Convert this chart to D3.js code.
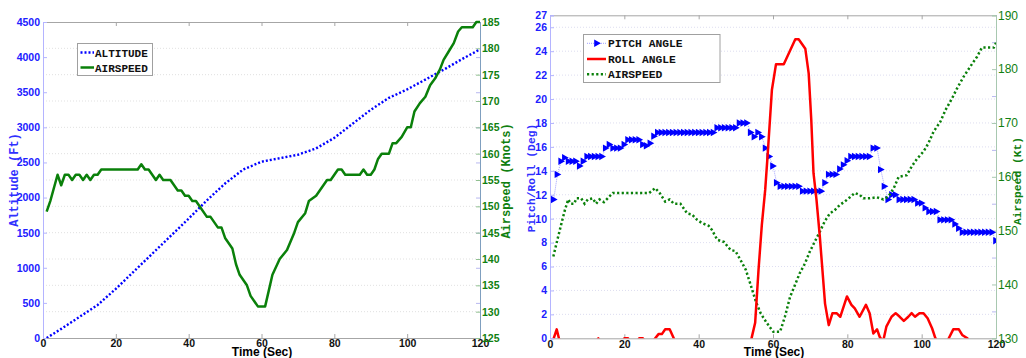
<!DOCTYPE html>
<html><head><meta charset="utf-8">
<script src="https://cdn.jsdelivr.net/npm/d3@7"></script>
<style>body{margin:0;background:#fff}svg{display:block}</style>
</head><body>
<svg id="c" width="1026" height="358"></svg>
<script>
// ---------- data: left chart ----------
const altT = [1,5,10,15,20,25,30,35,40,45,50,55,60,65,70,75,80,85,90,95,100,105,110,115,120];
const altV = [0,130,300,470,700,950,1200,1450,1700,1960,2200,2400,2510,2560,2610,2700,2850,3050,3250,3420,3540,3680,3820,3970,4110];

const spdLT = [1,2,4,5,6,7,8,9,10,11,12,13,14,15,16,26,27,28,29,31,32,33,35,37,38,39,40,41,42,43,45,46,48,49,50,52,53,54,56,57,59,61,62,63,65,67,69,70,72,73,75,76,78,79,81,82,83,86,87,88,89,90,91,92,93,95,96,97,98.5,100,101,102,103.5,105,106.3,107.7,109,110,111.4,112.8,114,115,118,119,120];
const spdLV = [149,151,156,154,156,156,155,156,156,155,156,155,156,156,157,157,158,157,157,155,156,155,155,153,153,152,152,151,151,150,148,148,146,146,144,142,139,137,135,133,131,131,134,137,140,141.7,145,147,148.7,151,152,153,155,155,157,157,156,156,156,157,156,156,157,159,160,160,162,162,163.2,165,165,168,169.6,170.8,173,174.3,176,177.8,179.4,181,183.2,184,184,185,185];

// ---------- data: right chart ----------
const pitchT = d3.range(1,121);
const pitchV = [11.6,13.7,14.8,15.1,14.8,14.8,14.8,14.4,14.8,15.2,
  15.2,15.2,15.2,15.2,15.9,16.2,15.9,15.9,15.9,16.2,
  16.6,16.6,16.6,16.6,16.2,16.1,16.3,16.9,17.2,17.2,
  17.2,17.2,17.2,17.2,17.2,17.2,17.2,17.2,17.2,17.2,
  17.2,17.2,17.2,17.2,17.6,17.6,17.6,17.6,17.6,17.6,
  18.0,18.0,18.0,17.2,16.85,17.2,16.85,15.9,15.2,14.4,
  13.0,12.7,12.7,12.7,12.7,12.7,12.7,12.3,12.3,12.3,
  12.3,12.3,12.3,13.0,13.7,13.7,13.7,14.15,14.5,14.85,
  15.2,15.2,15.2,15.2,15.2,15.2,15.9,15.9,14.1,12.7,
  11.6,12.0,12.0,11.6,11.6,11.6,11.6,11.6,11.3,11.3,
  10.9,10.6,10.6,10.6,9.9,9.9,9.9,9.9,9.55,9.2,
  8.86,8.86,8.86,8.86,8.86,8.86,8.86,8.86,8.86,8.16];

const rollT = [1,1.8,2.4,3.5,12,13,14,19.5,20,21,21.5,23.5,24,25,26,27.5,28.3,29.2,30.1,31,32.2,33.3,34,53.5,54.3,55.2,56.1,57,57.9,58.6,59.7,60.8,62.9,66,66.9,68.7,69.6,70.3,70.9,71.7,72.6,74,75,76,77.1,78.1,79.9,81.1,82,83.3,85,86,87,88,88.7,89.6,90.5,91.9,93,94.1,95.2,96.4,97.3,98.2,99.4,100.5,101.6,102.8,103.7,105,106.5,107.3,108.5,110,110.9,112.3,113.5,120];
const rollV = [0,0.75,0,-1,-0.5,0,-0.5,-0.3,0,0,-0.3,-0.3,0,0,-0.5,-0.3,0,0.35,0.35,0.75,0.75,0,-1,-1,0.1,1.3,5.7,9.5,12.4,15.5,20.75,22.9,22.9,25,25,24.2,22.15,18.25,13.8,11.6,8.5,2.9,1.1,2.1,2.1,1.8,3.5,2.8,2.5,1.8,2.8,2.1,0.4,0.75,0.13,-0.3,0.97,1.8,2.1,1.8,1.45,1.8,2.1,1.8,2.1,2.1,1.67,0.84,0,-1,-0.5,0,0.75,0.75,0.28,0,-1,-1];

const spdRT = [0.9,2.2,3.1,4.0,4.9,5.6,6.5,7.1,8.4,9.3,10.2,11.5,12.4,13.3,14.5,15.5,16.9,26.7,28.3,29.5,31,32.2,33.3,35.1,36.9,38.2,39.6,40.9,42.7,43.6,45,46.8,48.6,49.9,51.3,52.7,54,55.4,56.7,58.1,59,60.1,61.9,63.2,64.6,65.9,67.2,68.6,69.9,71.2,72.6,73.9,75.3,76.6,78,79.3,80.7,82,83.4,84.3,86.1,87.9,89.7,91,92.5,93.8,96,97.3,98.7,100.5,101.8,103.2,105,106.4,108.2,109.5,111.3,113.1,114.9,116.2,119.4,120];
const spdRV = [145.2,148.9,151.4,153.8,155.8,155,155,156,156,155,155.8,156,155,155.8,155.3,156,157,157,157.9,157,155.4,155.8,155,155,153.2,153,152,151.4,150.9,150.1,148.3,147.9,146.4,146.2,144.5,142.7,139.9,136.8,134.6,133.1,132.2,131.2,131.2,134,137.7,139.9,142.1,143.9,146.1,147.9,149.8,151.7,153.2,153.8,154.8,155.4,156.2,157,156.6,156,156,156.2,155.8,156.3,157.9,160,160.3,161.9,163.3,164.7,166.2,168.4,170.2,172.4,174.6,176.4,178.6,180.5,182.3,184,184,184.9];

// ---------- tick labels ----------
const xTicks = [0,20,40,60,80,100,120];
const altTicks = [0,500,1000,1500,2000,2500,3000,3500,4000,4500];
const spdLTicks = [125,130,135,140,145,150,155,160,165,170,175,180,185];
const degTicks = [0,2,4,6,8,10,12,14,16,18,20,22,24,26,27];
const spdRTicks = [130,140,150,160,170,180,190];

const svg = d3.select("#c");
svg.append("rect").attr("width",1026).attr("height",358).attr("fill","#fff");
const defs = svg.append("defs");
const tickFont = "'Liberation Sans', Arial, sans-serif";
const monoFont = "'Liberation Mono', 'Courier New', monospace";
const plain = d => String(d);

function clip(id,x0,y0,x1,y1){
  defs.append("clipPath").attr("id",id).append("rect")
    .attr("x",x0).attr("y",y0-3).attr("width",x1-x0).attr("height",y1-y0+3);
}

function styleAxis(g,color,lineColor,fs){
  g.select(".domain").attr("stroke",lineColor).attr("stroke-width",1);
  g.selectAll(".tick line").attr("stroke",lineColor);
  g.selectAll(".tick text").attr("fill",color).attr("font-family",tickFont)
   .attr("font-size",fs).attr("font-weight","bold");
}

// ================= LEFT CHART =================
{
  const x = d3.scaleLinear([0,120],[43,480]);
  const yA = d3.scaleLinear([0,4500],[338,22]);
  const yS = d3.scaleLinear([125,185],[338,22]);
  clip("clipL",43,22,480,338);

  svg.append("g").selectAll("line").data(spdLTicks.filter(v=>v>125&&v<185)).join("line")
    .attr("x1",x(0)).attr("x2",x(120)).attr("y1",d=>yS(d)).attr("y2",d=>yS(d))
    .attr("stroke","#d9d9d9").attr("stroke-width",0.8).attr("stroke-dasharray","1,2");

  const gTop = svg.append("g").attr("transform","translate(0,22)")
    .call(d3.axisTop(x).tickValues(xTicks).tickSize(-4).tickFormat(""));
  styleAxis(gTop,"#000","#a6a6a6",10);
  const gBot = svg.append("g").attr("transform","translate(0,338)")
    .call(d3.axisBottom(x).tickValues(xTicks).tickSize(-4).tickPadding(2).tickFormat(plain));
  styleAxis(gBot,"#111","#a6a6a6",10.5);

  svg.append("g").attr("transform","translate(480,0)")
    .call(d3.axisLeft(yA).tickValues(altTicks).tickSize(4).tickFormat(""))
    .call(g=>{g.select(".domain").remove();g.selectAll(".tick line").attr("stroke","#b8b8f0");});

  const gL = svg.append("g").attr("transform","translate(43,0)")
    .call(d3.axisLeft(yA).tickValues(altTicks).tickSize(-4).tickPadding(3).tickFormat(plain));
  styleAxis(gL,"#2020ff","#b4b4ff",10.5);
  const gR = svg.append("g").attr("transform","translate(480,0)")
    .call(d3.axisRight(yS).tickValues(spdLTicks).tickSize(-4).tickPadding(2).tickFormat(plain));
  styleAxis(gR,"#108010","#7f9fbf",10.5);
  gR.selectAll(".tick line").attr("stroke","#90c090");

  const plot = svg.append("g").attr("clip-path","url(#clipL)");
  plot.append("path").datum(altT.map((t,i)=>[t,altV[i]]))
    .attr("d",d3.line().x(d=>x(d[0])).y(d=>yA(d[1])))
    .attr("fill","none").attr("stroke","#0000ff").attr("stroke-width",2.4).attr("stroke-dasharray","2,2");
  plot.append("path").datum(spdLT.map((t,i)=>[t,spdLV[i]]))
    .attr("d",d3.line().x(d=>x(d[0])).y(d=>yS(d[1])))
    .attr("fill","none").attr("stroke","#0a800a").attr("stroke-width",2.5).attr("stroke-linejoin","round");

  const lg = svg.append("g");
  lg.append("rect").attr("x",77.5).attr("y",43.5).attr("width",75).attr("height",32)
    .attr("fill","#fff").attr("stroke","#a0a0a0");
  lg.append("line").attr("x1",80.5).attr("x2",94).attr("y1",52.5).attr("y2",52.5)
    .attr("stroke","#0000ff").attr("stroke-width",2.4).attr("stroke-dasharray","2,2");
  lg.append("line").attr("x1",80.5).attr("x2",94).attr("y1",67.5).attr("y2",67.5)
    .attr("stroke","#0a800a").attr("stroke-width",2.5);
  ["ALTITUDE","AIRSPEED"].forEach((s,i)=>lg.append("text").attr("x",95).attr("y",56.5+i*15.2)
    .attr("font-family",monoFont).attr("font-weight","bold").attr("font-size",11).attr("fill","#111").text(s));

  svg.append("text").attr("transform","translate(17.5,180) rotate(-90)").attr("text-anchor","middle")
    .attr("font-family",monoFont).attr("font-weight","bold").attr("font-size",12).attr("fill","#3030ff").text("Altitude (Ft)");
  svg.append("text").attr("transform","translate(510,181) rotate(-90)").attr("text-anchor","middle")
    .attr("font-family",monoFont).attr("font-weight","bold").attr("font-size",12).attr("fill","#108010").text("Airspeed (Knots)");
  svg.append("text").attr("x",262).attr("y",355.5).attr("text-anchor","middle")
    .attr("font-family",tickFont).attr("font-weight","bold").attr("font-size",12).attr("fill","#000").text("Time (Sec)");
}

// ================= RIGHT CHART =================
{
  const x = d3.scaleLinear([0,120],[550,996]);
  const yD = d3.scaleLinear([0,27],[338.3,15.3]);
  const yS = d3.scaleLinear([130,190],[338.3,15.3]);
  clip("clipR",550,15.3,996,338.3);

  svg.append("g").selectAll("line").data(degTicks.filter(v=>v>0&&v<27)).join("line")
    .attr("x1",x(0)).attr("x2",x(120)).attr("y1",d=>yD(d)).attr("y2",d=>yD(d))
    .attr("stroke","#d4d4ec").attr("stroke-width",0.8).attr("stroke-dasharray","1,2");

  const gTop = svg.append("g").attr("transform","translate(0,15.3)")
    .call(d3.axisTop(x).tickValues(xTicks).tickSize(-4).tickFormat(""));
  styleAxis(gTop,"#000","#a6a6a6",10);
  const gBot = svg.append("g").attr("transform","translate(0,338.3)")
    .call(d3.axisBottom(x).tickValues(xTicks).tickSize(-4).tickPadding(2).tickFormat(plain));
  styleAxis(gBot,"#111","#a6a6a6",10.5);

  svg.append("g").attr("transform","translate(996,0)")
    .call(d3.axisLeft(yS).tickValues([135,145,155,165,175,185]).tickSize(4).tickFormat(""))
    .call(g=>{g.select(".domain").remove();g.selectAll(".tick line").attr("stroke","#b8b8f0");});

  const gL = svg.append("g").attr("transform","translate(550,0)")
    .call(d3.axisLeft(yD).tickValues(degTicks).tickSize(-4).tickPadding(3).tickFormat(plain));
  styleAxis(gL,"#2020ff","#b4b4ff",10.5);
  const gR = svg.append("g").attr("transform","translate(996,0)")
    .call(d3.axisRight(yS).tickValues(spdRTicks).tickSize(-4).tickPadding(2).tickFormat(plain));
  styleAxis(gR,"#108010","#a8c8b0",12);
  gR.selectAll(".tick text").attr("font-weight","normal");

  const plot = svg.append("g").attr("clip-path","url(#clipR)");
  const pd = pitchT.map((t,i)=>[t,pitchV[i]]);
  plot.append("path").datum(pd)
    .attr("d",d3.line().x(d=>x(d[0])).y(d=>yD(d[1])))
    .attr("fill","none").attr("stroke","#a0a0ff").attr("stroke-width",1).attr("stroke-dasharray","1,1");
  const tri = "M-2.8,-3.7L3.9,0L-2.8,3.7Z";
  plot.append("g").selectAll("path").data(pd).join("path")
    .attr("transform",d=>`translate(${x(d[0])},${yD(d[1])})`).attr("d",tri).attr("fill","#0000ff");
  plot.append("path").datum(spdRT.map((t,i)=>[t,spdRV[i]]))
    .attr("d",d3.line().x(d=>x(d[0])).y(d=>yS(d[1])))
    .attr("fill","none").attr("stroke","#0a800a").attr("stroke-width",2.5).attr("stroke-dasharray","2.2,2.4");
  plot.append("path").datum(rollT.map((t,i)=>[t,rollV[i]]))
    .attr("d",d3.line().x(d=>x(d[0])).y(d=>yD(d[1])))
    .attr("fill","none").attr("stroke","#ff0000").attr("stroke-width",2.5).attr("stroke-linejoin","round");

  const lg = svg.append("g");
  lg.append("rect").attr("x",583.5).attr("y",34.5).attr("width",136.5).attr("height",48)
    .attr("fill","#fff").attr("stroke","#a0a0a0");
  lg.append("line").attr("x1",587).attr("x2",606).attr("y1",43.3).attr("y2",43.3)
    .attr("stroke","#a0a0ff").attr("stroke-width",1).attr("stroke-dasharray","1,1");
  lg.append("path").attr("transform","translate(597,43.3)").attr("d",tri).attr("fill","#0000ff");
  lg.append("line").attr("x1",587).attr("x2",606).attr("y1",59).attr("y2",59)
    .attr("stroke","#ff0000").attr("stroke-width",2.5);
  lg.append("line").attr("x1",587).attr("x2",606).attr("y1",74.3).attr("y2",74.3)
    .attr("stroke","#0a800a").attr("stroke-width",2.5).attr("stroke-dasharray","2.2,2.4");
  ["PITCH ANGLE","ROLL ANGLE","AIRSPEED"].forEach((s,i)=>lg.append("text").attr("x",608).attr("y",47.3+i*15.5)
    .attr("font-family",monoFont).attr("font-weight","bold").attr("font-size",11.3).attr("fill","#111").text(s));

  svg.append("text").attr("transform","translate(535,178) rotate(-90)").attr("text-anchor","middle")
    .attr("font-family",monoFont).attr("font-weight","bold").attr("font-size",11.3).attr("fill","#3030ff").text("Pitch/Roll (Deg)");
  svg.append("text").attr("transform","translate(1021,181) rotate(-90)").attr("text-anchor","middle")
    .attr("font-family",monoFont).attr("font-weight","bold").attr("font-size",11.3).attr("fill","#108010").text("Airspeed (Kt)");
  svg.append("text").attr("x",774).attr("y",355.5).attr("text-anchor","middle")
    .attr("font-family",tickFont).attr("font-weight","bold").attr("font-size",12).attr("fill","#000").text("Time (Sec)");
}
</script>
</body></html>
